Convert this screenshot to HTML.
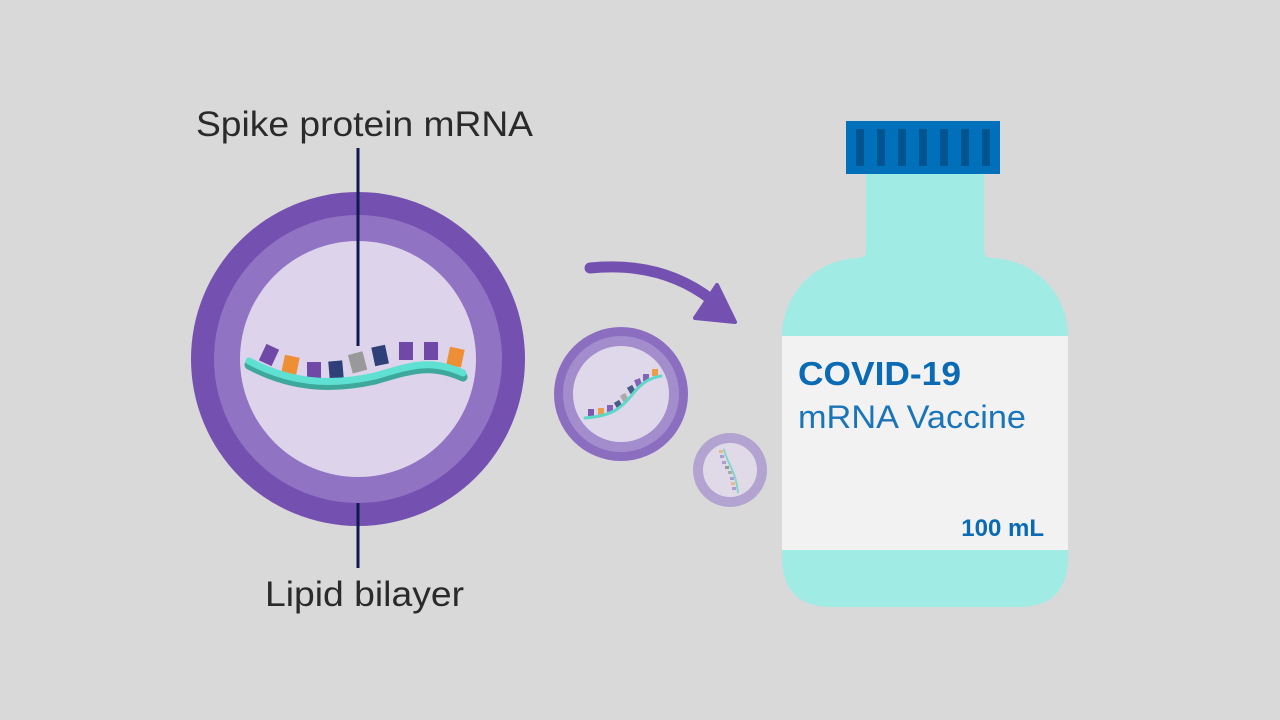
<!DOCTYPE html>
<html><head><meta charset="utf-8"><style>html,body{margin:0;padding:0;background:#d9d9d9}svg{display:block}</style></head>
<body>
<svg width="1280" height="720" viewBox="0 0 1280 720" xmlns="http://www.w3.org/2000/svg" font-family="Liberation Sans, Arial, sans-serif">
<rect width="1280" height="720" fill="#d9d9d9"/>
<text x="196" y="136" font-size="35" fill="#2a2a2a" textLength="337" lengthAdjust="spacingAndGlyphs">Spike protein mRNA</text>
<text x="265" y="606" font-size="35" fill="#2a2a2a" textLength="199" lengthAdjust="spacingAndGlyphs">Lipid bilayer</text>
<circle cx="358" cy="359" r="167" fill="#7450b0"/>
<circle cx="358" cy="359" r="144" fill="#9073c2"/>
<circle cx="358" cy="359" r="118" fill="#ddd3ea"/>
<line x1="358" y1="148" x2="358" y2="346" stroke="#101a50" stroke-width="3"/>
<line x1="358" y1="503" x2="358" y2="568" stroke="#101a50" stroke-width="3"/>
<g>
<rect x="262" y="346" width="14" height="18" fill="#7048a8" transform="rotate(25 269 355)"/>
<rect x="283" y="356" width="15" height="18" fill="#ee8f35" transform="rotate(12 290 365)"/>
<rect x="307" y="362" width="14" height="17" fill="#7048a8"/>
<rect x="329" y="361" width="14" height="18" fill="#2f3f78" transform="rotate(-5 336 370)"/>
<rect x="350" y="353" width="15" height="19" fill="#999" transform="rotate(-15 357 362)"/>
<rect x="373" y="346" width="14" height="19" fill="#2f3f78" transform="rotate(-12 380 355)"/>
<rect x="399" y="342" width="14" height="18" fill="#7048a8"/>
<rect x="424" y="342" width="14" height="18" fill="#7048a8"/>
<rect x="448" y="348" width="15" height="18" fill="#ee8f35" transform="rotate(12 455 357)"/>
</g>
<path d="M249 363 C 290 385, 330 388, 375 378 C 410 368, 430 360, 463 375" fill="none" stroke="#3fa89c" stroke-width="9" stroke-linecap="round" transform="translate(0,2)"/>
<path d="M249 361 C 290 383, 330 386, 375 376 C 410 366, 430 358, 463 373" fill="none" stroke="#5ee0d3" stroke-width="7" stroke-linecap="round"/>
<circle cx="621" cy="394" r="67" fill="#8c6ec0"/>
<circle cx="621" cy="394" r="58" fill="#a48dcc"/>
<circle cx="621" cy="394" r="48" fill="#dfd8ea"/>
<g>
<rect x="588" y="409" width="6" height="7" fill="#7a58b0"/>
<rect x="598" y="408" width="6" height="7" fill="#eb9b4a"/>
<rect x="607" y="405" width="6" height="7" fill="#8462b6"/>
<rect x="615" y="401" width="6" height="7" fill="#4b5b88" transform="rotate(-30 618 404)"/>
<rect x="621" y="394" width="6" height="7" fill="#aaa" transform="rotate(-30 624 397)"/>
<rect x="628" y="386" width="6" height="7" fill="#4b5b88" transform="rotate(-30 631 389)"/>
<rect x="635" y="379" width="6" height="7" fill="#8462b6" transform="rotate(-20 638 382)"/>
<rect x="643" y="374" width="6" height="7" fill="#8462b6"/>
<rect x="652" y="369" width="6" height="7" fill="#eb9b4a"/>
</g>
<path d="M585 418 C 610 416, 620 410, 632 395 C 642 382, 650 378, 661 376" fill="none" stroke="#5ed8c8" stroke-width="3" stroke-linecap="round"/>
<circle cx="730" cy="470" r="37" fill="#b3a3d0"/>
<circle cx="730" cy="470" r="27" fill="#e0dae8"/>
<path d="M724 449 C 726 462, 736 470, 738 493" fill="none" stroke="#7ed8cc" stroke-width="2"/>
<g fill="#b09ad0">
<rect x="719" y="450" width="4" height="3" fill="#ebb88a"/><rect x="720" y="455" width="4" height="3"/><rect x="722" y="461" width="4" height="3"/><rect x="725" y="466" width="4" height="3" fill="#999"/><rect x="728" y="471" width="4" height="3" fill="#aaa"/><rect x="730" y="477" width="4" height="3"/><rect x="731" y="482" width="4" height="3" fill="#ebb88a"/><rect x="732" y="487" width="4" height="3"/>
</g>
<path d="M590 268 C 640 263, 680 275, 712 300" fill="none" stroke="#7450b0" stroke-width="11" stroke-linecap="round"/>
<path d="M717 285 L735 322 L695 318 Z" fill="#7450b0" stroke="#7450b0" stroke-width="4" stroke-linejoin="round"/>
<path d="M866 174 H984 V250 Q984 258 992 258 A78 78 0 0 1 1068 336 V557 Q1068 607 1018 607 H832 Q782 607 782 557 V336 A78 78 0 0 1 858 258 Q866 258 866 250 Z" fill="#a0ebe3"/>
<rect x="782" y="336" width="286" height="214" fill="#f2f2f2"/>
<rect x="846" y="121" width="154" height="53" fill="#0070bb"/>
<g fill="#005490">
<rect x="856" y="129" width="8" height="37"/><rect x="877" y="129" width="8" height="37"/><rect x="898" y="129" width="8" height="37"/><rect x="919" y="129" width="8" height="37"/><rect x="940" y="129" width="8" height="37"/><rect x="961" y="129" width="8" height="37"/><rect x="982" y="129" width="8" height="37"/>
</g>
<text x="798" y="385" font-size="33" font-weight="bold" fill="#0a6ab3" textLength="163" lengthAdjust="spacingAndGlyphs">COVID-19</text>
<text x="798" y="428" font-size="32" fill="#1a74b8" textLength="228" lengthAdjust="spacingAndGlyphs">mRNA Vaccine</text>
<text x="1044" y="536" font-size="24" font-weight="bold" fill="#0a6ab3" text-anchor="end">100 mL</text>
</svg>
</body></html>
